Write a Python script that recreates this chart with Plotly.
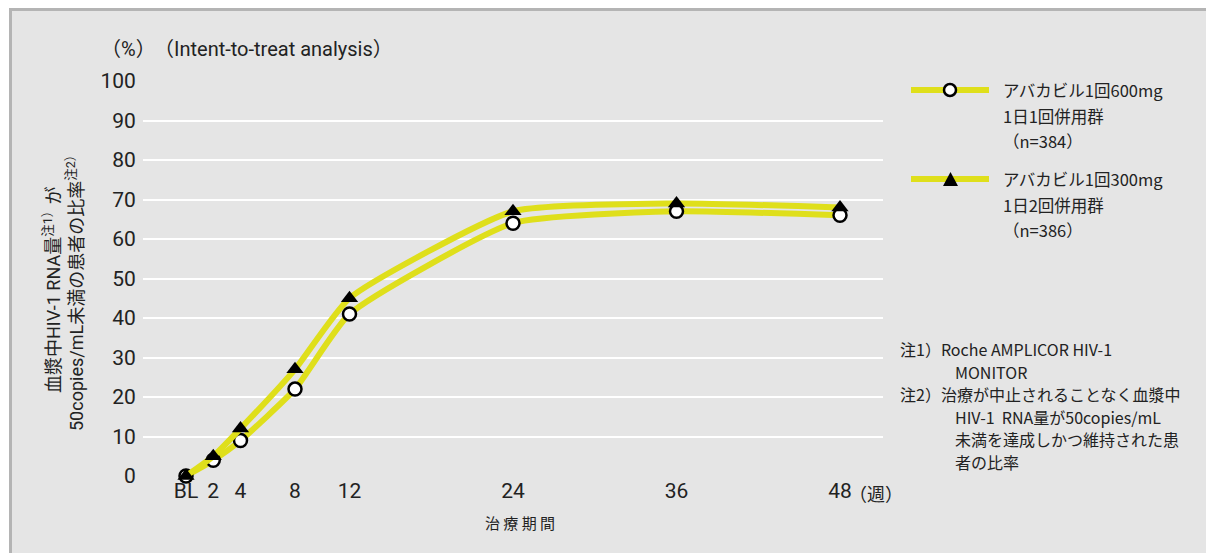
import plotly.graph_objects as go

# ---- data ----
weeks = [0, 2, 4, 8, 12, 24, 36, 48]
week_labels = ["BL", "2", "4", "8", "12", "24", "36", "48"]
grp600_name = "アバカビル1回600mg 1日1回併用群（n=384）"
grp600 = [0, 4, 9, 22, 41, 64, 67, 66]
grp300_name = "アバカビル1回300mg 1日2回併用群（n=386）"
grp300 = [0, 5, 12, 27, 45, 67, 69, 68]
y_ticks = [0, 10, 20, 30, 40, 50, 60, 70, 80, 90, 100]

# ---- layout helpers (pixel -> paper) ----
L, R, T, B = 143, 883, 81, 476
W, H = 1206, 553
def X(px):
    return (px - L) / (R - L)
def Y(py):
    return (B - py) / (B - T)

LAT = "Liberation Sans Narrow, Roboto, Noto Sans CJK JP, sans-serif"
CJK = "Noto Sans CJK JP, Roboto, sans-serif"
YEL = "#dfdf1b"
TXT = "#222222"

fig = go.Figure()
for name, vals, sym, fill in [(grp600_name, grp600, "circle", "white"),
                              (grp300_name, grp300, "triangle-up", "black")]:
    fig.add_trace(go.Scatter(
        x=weeks, y=vals, name=name, mode="lines+markers",
        line=dict(color=YEL, width=6, shape="spline", smoothing=0.5),
        marker=dict(symbol=sym, size=13 if sym == "circle" else 15, color=fill,
                    line=dict(color="black", width=2.5 if sym == "circle" else 0)),
        cliponaxis=False, showlegend=False))

shapes = [
    dict(type="rect", xref="paper", yref="paper", x0=X(10.5), x1=X(1400),
         y0=Y(9.5), y1=Y(700), fillcolor="#e5e5e5",
         line=dict(color="#b4b4b4", width=3), layer="below"),
]
# manual legend samples
leg_rows = [(90, "circle"), (179, "triangle")]
for ly, kind in leg_rows:
    shapes.append(dict(type="line", xref="paper", yref="paper",
                       x0=X(911), x1=X(989), y0=Y(ly), y1=Y(ly),
                       line=dict(color=YEL, width=6)))
    if kind == "circle":
        shapes.append(dict(type="circle", xref="paper", yref="paper",
                           x0=X(944), x1=X(956), y0=Y(96), y1=Y(84),
                           fillcolor="white", line=dict(color="black", width=2.5)))
    else:
        x0, x1, xc = X(943), X(958), X(950.5)
        shapes.append(dict(type="path", xref="paper", yref="paper",
                           path=f"M {x0},{Y(186)} L {x1},{Y(186)} L {xc},{Y(172)} Z",
                           fillcolor="black", line=dict(width=0)))

ann = []
def add(text, px, py, size, xanchor="left", font=CJK, angle=0, align="left"):
    ann.append(dict(text=text, xref="paper", yref="paper", x=X(px), y=Y(py),
                    xanchor=xanchor, yanchor="middle", showarrow=False,
                    textangle=angle, align=align,
                    font=dict(family=font, size=size, color=TXT)))

add("（%）", 99, 49, 20, font=LAT)
add("（Intent-to-treat analysis）", 152, 49, 20, font=LAT)
add("（週）", 847, 494, 18, font=LAT)
add("治 療 期 間", 520, 522, 15, xanchor="center")
add("血漿中HIV-1 RNA量<sup>注1）</sup>が<br>50copies/mL未満の患者の比率<sup>注2）</sup>",
    63, 290, 18, xanchor="center", font=LAT, angle=-90, align="center")

# legend texts
for i, t in enumerate(["アバカビル1回600mg", "1日1回併用群", "（n=384）"]):
    add(t, 1001, 90 + i * 25.5, 16.5)
for i, t in enumerate(["アバカビル1回300mg", "1日2回併用群", "（n=386）"]):
    add(t, 1001, 179 + i * 25.5, 16.5)

# notes
notes = [("注1）Roche AMPLICOR HIV-1", 898), ("MONITOR", 953),
         ("注2）治療が中止されることなく血漿中", 898),
         ("HIV-1  RNA量が50copies/mL", 953),
         ("未満を達成しかつ維持された患", 953), ("者の比率", 953)]
for i, (t, px) in enumerate(notes):
    add(t, px, 349 + i * 22.6, 16)

fig.update_layout(
    width=W, height=H,
    margin=dict(l=L, r=W - R, t=T, b=H - B, pad=0),
    paper_bgcolor="white", plot_bgcolor="#b3b3b3",
    shapes=shapes, annotations=ann, showlegend=False,
    xaxis=dict(range=[(L - 186) / 13.625, (R - 186) / 13.625],
               tickvals=weeks, ticktext=week_labels, showgrid=False,
               zeroline=False, showline=False, ticks="", ticklen=0,
               tickfont=dict(family=LAT, size=21, color=TXT), fixedrange=True),
    yaxis=dict(range=[0, 100], tickvals=y_ticks, showgrid=True,
               gridcolor="white", gridwidth=2, zeroline=False, showline=False,
               ticks="outside", ticklen=2, tickcolor="rgba(0,0,0,0)",
               tickfont=dict(family=LAT, size=21, color=TXT), fixedrange=True),
)

fig.write_html("out.html", config={"displayModeBar": False},
               post_script="document.body.style.margin='0';document.body.style.overflow='hidden';")
